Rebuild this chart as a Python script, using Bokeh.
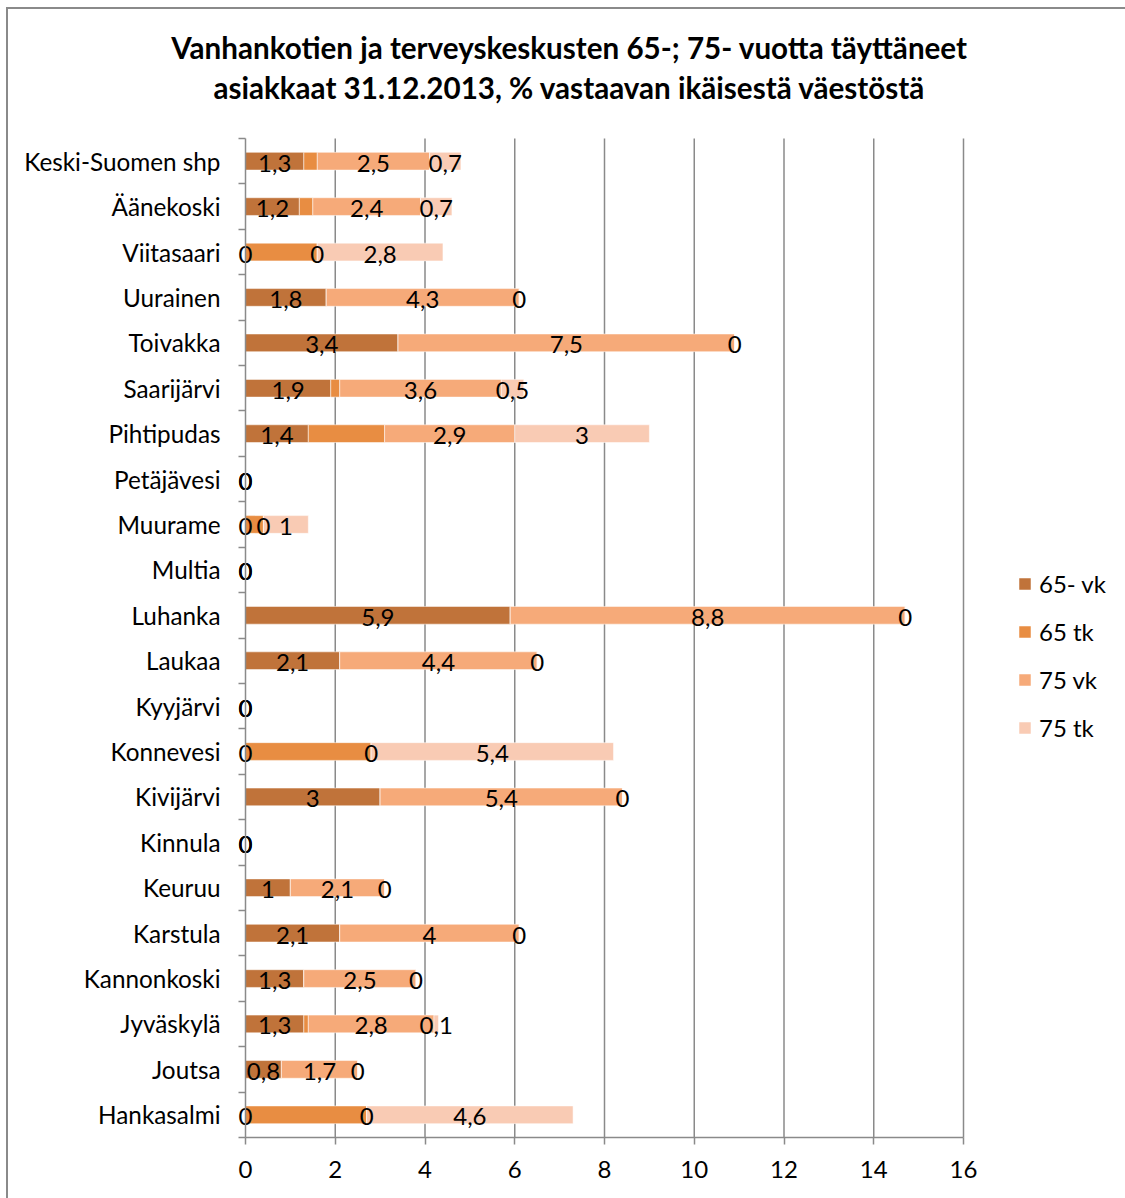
from bokeh.plotting import figure
from bokeh.models import (Range1d, LinearAxis, FixedTicker, ColumnDataSource, Legend, LegendItem, Label)
from bokeh.embed import file_html
from bokeh.resources import INLINE
from bokeh.core.properties import value

categories = ["Keski-Suomen shp", "Äänekoski", "Viitasaari", "Uurainen", "Toivakka", "Saarijärvi",
              "Pihtipudas", "Petäjävesi", "Muurame", "Multia", "Luhanka", "Laukaa", "Kyyjärvi",
              "Konnevesi", "Kivijärvi", "Kinnula", "Keuruu", "Karstula", "Kannonkoski",
              "Jyväskylä", "Joutsa", "Hankasalmi"]
vk65 = [1.3, 1.2, 0, 1.8, 3.4, 1.9, 1.4, 0, 0, 0, 5.9, 2.1, 0, 0, 3, 0, 1, 2.1, 1.3, 1.3, 0.8, 0]
tk65 = [0.3, 0.3, 1.6, 0, 0, 0.2, 1.7, 0, 0.4, 0, 0, 0, 0, 2.8, 0, 0, 0, 0, 0, 0.1, 0, 2.7]
vk75 = [2.5, 2.4, 0, 4.3, 7.5, 3.6, 2.9, 0, 0, 0, 8.8, 4.4, 0, 0, 5.4, 0, 2.1, 4, 2.5, 2.8, 1.7, 0]
tk75 = [0.7, 0.7, 2.8, 0, 0, 0.5, 3, 0, 1, 0, 0, 0, 0, 5.4, 0, 0, 0, 0, 0, 0.1, 0, 4.6]
series_names = ["65- vk", "65 tk", "75 vk", "75 tk"]
labelled = [True, False, True, True]
x_ticks = [0, 2, 4, 6, 8, 10, 12, 14, 16]
title_lines = ["Vanhankotien ja terveyskeskusten 65-; 75- vuotta täyttäneet",
               "asiakkaat 31.12.2013, % vastaavan ikäisestä väestöstä"]

colors = ["#C0733A", "#E88D42", "#F6AA79", "#F9CBB4"]
FONT = "Lato"
GRID = "#8a8a8a"
FS = "24px"

# layout (pixels) of the plotting area inside the 1125 x 1198 canvas
W, H = 1125, 1198
PL, PR, PT, PB = 245, 963, 138, 1137

n_cat = len(categories)
x_max = x_ticks[-1]
ux = (PR - PL) / x_max
uy = (PB - PT) / n_cat
ypos = [n_cat - 1 - i + 0.5 for i in range(n_cat)]   # first category at the top

series = [vk65, tk65, vk75, tk75]
data = {"y": ypos}
for n, s in zip(series_names, series):
    data[n] = s
source = ColumnDataSource(data)

p = figure(width=W, height=H, output_backend="svg", toolbar_location=None,
           x_range=Range1d(-PL / ux, x_max + (W - PR) / ux),
           y_range=Range1d(-(H - PB) / uy, n_cat + PT / uy),
           y_axis_location=None, x_axis_location="below",
           min_border=0, min_border_left=0, min_border_right=0, min_border_top=0, min_border_bottom=0)
p.styles = {"background-color": "white",
            "background-image": "linear-gradient(#8a8a8a, #8a8a8a), linear-gradient(#8a8a8a, #8a8a8a)",
            "background-size": "2px 100%, 100% 2px",
            "background-position": "6px 7px, 6px 7px",
            "background-repeat": "no-repeat"}
p.outline_line_color = None
p.background_fill_alpha = 0
p.border_fill_alpha = 0
p.xgrid.visible = False
p.ygrid.visible = False

# vertical grid lines over the plotting area
p.segment(x0=x_ticks[1:], y0=[0] * (len(x_ticks) - 1), x1=x_ticks[1:], y1=[n_cat] * (len(x_ticks) - 1),
          line_color=GRID, line_width=1.5)

# y axis: labels at category centres, minor ticks on category boundaries
yaxis = LinearAxis(ticker=FixedTicker(ticks=ypos, minor_ticks=list(range(n_cat + 1))),
                   fixed_location=0, bounds=(0, n_cat),
                   major_label_overrides={y: c for y, c in zip(ypos, categories)},
                   axis_line_color=GRID, axis_line_width=1.5,
                   major_tick_line_color=None, major_tick_out=0, major_tick_in=0,
                   minor_tick_line_color=GRID, minor_tick_line_width=1.5,
                   minor_tick_out=7, minor_tick_in=0,
                   major_label_standoff=18,
                   major_label_text_font=FONT, major_label_text_font_size="24.3px",
                   major_label_text_color="black")
p.add_layout(yaxis, "left")

xa = p.xaxis[0]
xa.fixed_location = 0
xa.bounds = (0, x_max)
xa.ticker = FixedTicker(ticks=x_ticks)
xa.major_tick_out = 7
xa.major_tick_in = 0
xa.minor_tick_line_color = None
xa.axis_line_color = GRID
xa.axis_line_width = 1.5
xa.major_tick_line_color = GRID
xa.major_tick_line_width = 1.5
xa.major_label_text_font = FONT
xa.major_label_text_font_size = FS
xa.major_label_text_color = "black"
xa.major_label_standoff = 16

renderers = p.hbar_stack(series_names, y="y", height=0.39, color=colors, source=source,
                         line_color="white", line_width=1, line_alpha=0.5)

# data labels
left = [0.0] * n_cat
for s, show in zip(series, labelled):
    centres = [l + v / 2 for l, v in zip(left, s)]
    texts = [("%g" % v).replace(".", ",") for v in s]
    left = [l + v for l, v in zip(left, s)]
    if not show:
        continue
    ls = ColumnDataSource({"x": centres, "y": ypos, "t": texts})
    p.text(x="x", y="y", text="t", source=ls, text_font=value(FONT), text_font_size=FS,
           text_align="center", text_baseline="middle", text_color="black", y_offset=2)

legend = Legend(items=[LegendItem(label=n, renderers=[r]) for n, r in zip(series_names, renderers)],
                location=(1017, 456), glyph_width=15, glyph_height=15, label_standoff=7,
                label_text_font=FONT, label_text_font_size=FS, label_height=29,
                label_text_color="black",
                spacing=19, padding=0, border_line_color=None, background_fill_alpha=0)
p.add_layout(legend)

for i, line in enumerate(title_lines):
    p.add_layout(Label(x=569, y=H - 47 - 40 * i, x_units="screen", y_units="screen", text=line,
                       text_font=FONT, text_font_style="bold", text_font_size="29.6px",
                       text_align="center", text_baseline="middle", text_color="black"))

open("out.html", "w").write(file_html(p, INLINE))
